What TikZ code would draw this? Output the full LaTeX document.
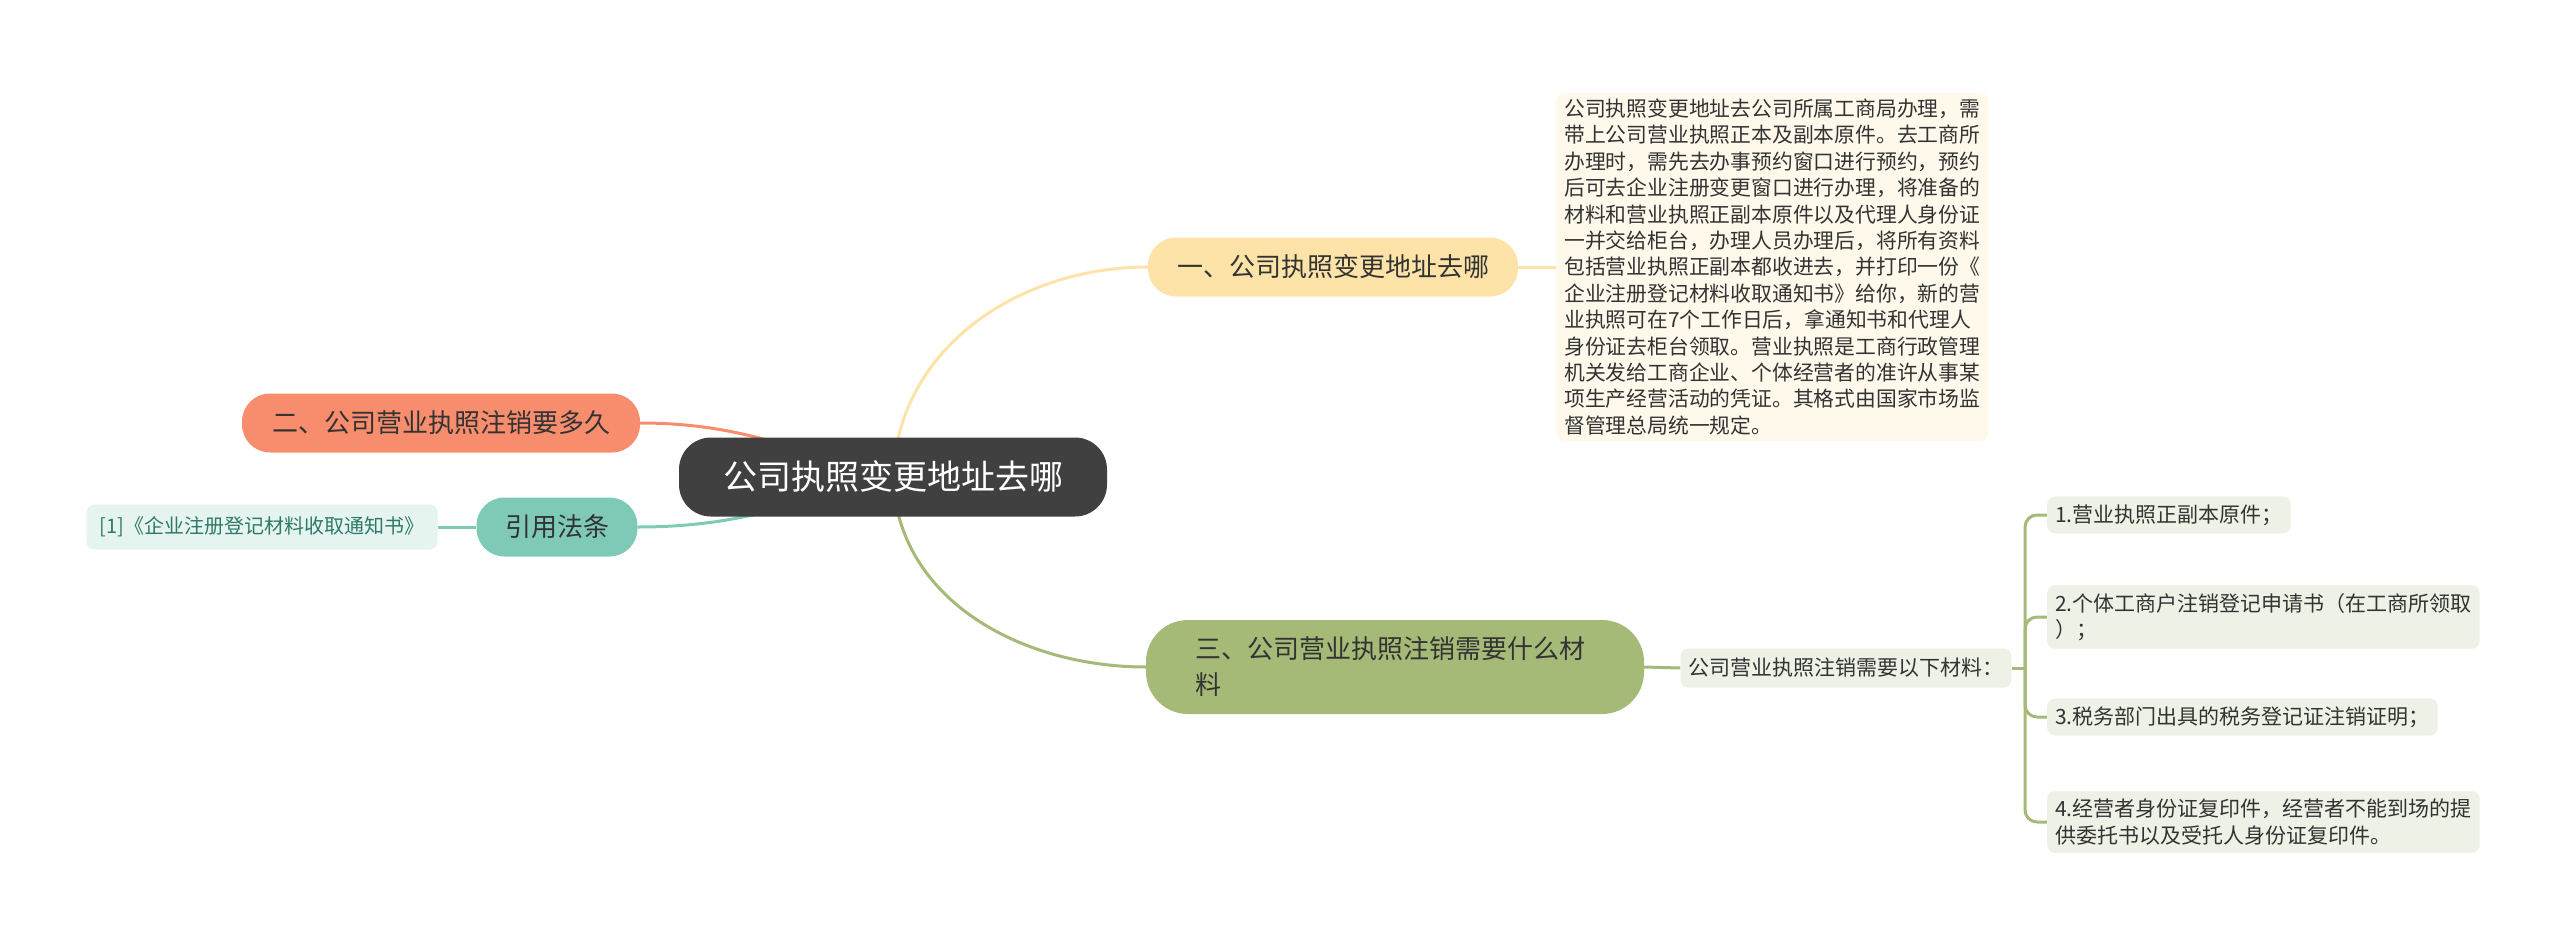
\documentclass[tikz,border=0pt]{standalone}
\usepackage{fontspec}
\setmainfont{Noto Sans CJK SC}
\usepackage{xcolor}
\usetikzlibrary{backgrounds}

\definecolor{rootgray}{HTML}{404040}
\definecolor{yelfill}{HTML}{FDE3A7}
\definecolor{yelnote}{HTML}{FEF9EB}
\definecolor{orafill}{HTML}{F78D6D}
\definecolor{tealfill}{HTML}{7ECAB7}
\definecolor{tealnote}{HTML}{E6F4F0}
\definecolor{tealtext}{HTML}{2E7A6A}
\definecolor{grnfill}{HTML}{A6BA78}
\definecolor{grnnote}{HTML}{EEF1E6}
\definecolor{txt}{HTML}{333333}

\begin{document}
\begin{tikzpicture}[x=1pt, y=-1pt,
    rootnode/.style={fill=rootgray, text=white, rounded corners=32pt, minimum width=428pt,
      minimum height=79pt, font=\fontsize{34}{40}\selectfont},
    branch/.style={rounded corners=28pt, minimum height=59pt, text=txt,
      font=\fontsize{26}{36}\selectfont},
    leaf/.style={rounded corners=8pt, text=txt, align=left, inner xsep=8pt, inner ysep=8pt,
      font=\fontsize{21}{26.4}\selectfont},
    link/.style={line width=3pt}]
  \useasboundingbox (0,0) rectangle (2560,945);
  \node[rootnode] (root) at (893,477) {公司执照变更地址去哪};
  \node[branch, fill=yelfill, minimum width=370pt] (b1) at (1333,267) {一、公司执照变更地址去哪};
  \node[leaf, fill=yelnote, anchor=west, inner ysep=6pt, font=\fontsize{20.8}{26.4}\selectfont] (n1) at (1556,267) {%
    公司执照变更地址去公司所属工商局办理，需\\
    带上公司营业执照正本及副本原件。去工商所\\
    办理时，需先去办事预约窗口进行预约，预约\\
    后可去企业注册变更窗口进行办理，将准备的\\
    材料和营业执照正副本原件以及代理人身份证\\
    一并交给柜台，办理人员办理后，将所有资料\\
    包括营业执照正副本都收进去，并打印一份《\\
    企业注册登记材料收取通知书》给你，新的营\\
    业执照可在7个工作日后，拿通知书和代理人\\
    身份证去柜台领取。营业执照是工商行政管理\\
    机关发给工商企业、个体经营者的准许从事某\\
    项生产经营活动的凭证。其格式由国家市场监\\
    督管理总局统一规定。};
  \node[branch, fill=orafill, minimum width=398pt] (b2) at (441,423) {二、公司营业执照注销要多久};
  \node[branch, fill=tealfill, minimum width=161pt] (cite) at (557,527) {引用法条};
  \node[leaf, fill=tealnote, text=tealtext, font=\fontsize{20}{26}\selectfont, minimum width=351pt,
    minimum height=45pt] (law) at (262,527) {[1]《企业注册登记材料收取通知书》};
  \node[branch, fill=grnfill, rounded corners=42pt, minimum width=498pt, minimum height=94pt,
    text width=400pt, inner xsep=49pt, align=left] (b3) at (1395,667)
    {三、公司营业执照注销需要什么材\\料};
  \node[leaf, fill=grnnote, minimum height=39pt] (sub) at (1846,668) {公司营业执照注销需要以下材料：};
  \coordinate (fork) at (2025,668);
  \node[leaf, fill=grnnote, anchor=west] (m1) at (2047,515) {1.营业执照正副本原件；};
  \node[leaf, fill=grnnote, anchor=west, minimum width=425pt] (m2) at (2047,617)
    {2.个体工商户注销登记申请书（在工商所领取\\）；};
  \node[leaf, fill=grnnote, anchor=west] (m3) at (2047,717) {3.税务部门出具的税务登记证注销证明；};
  \node[leaf, fill=grnnote, anchor=west, minimum width=425pt] (m4) at (2047,822)
    {4.经营者身份证复印件，经营者不能到场的提\\供委托书以及受托人身份证复印件。};
  \begin{pgfonlayer}{background}
    \draw[link, yelfill] (root.center) to[out=88, in=180] (b1.west);
    \draw[link, yelfill] (b1.east) -- (n1.west);
    \draw[link, orafill] (root.center) to[out=165, in=0] (b2.east);
    \draw[link, tealfill] (root.center) to[out=195, in=0] (cite.east);
    \draw[link, tealfill] (cite.west) -- (law.east);
    \draw[link, grnfill] (root.center) to[out=-88, in=180] (b3.west);
    \draw[link, grnfill] (b3.east) -- (sub.west);
    \draw[link, grnfill] (sub.east) -- (fork);
    \foreach \m in {m1,m2,m3,m4}
      \draw[link, grnfill, rounded corners=12pt] (fork) |- (\m.west);
  \end{pgfonlayer}
\end{tikzpicture}
\end{document}
